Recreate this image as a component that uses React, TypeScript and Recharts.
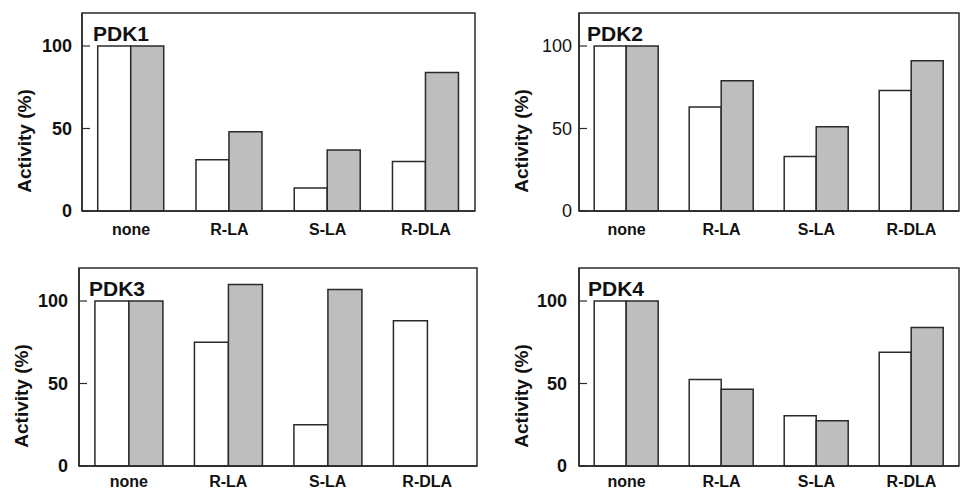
import { BarChart, Bar, XAxis, YAxis, ReferenceArea } from "recharts";

const FONT = '"Liberation Sans", Arial, sans-serif';
const INK = "#2a2a2a";
const GRAY = "#bebebe";

const categories = ["none", "R-LA", "S-LA", "R-DLA"];
const yTicks = [0, 50, 100];

const pdk1White = [100, 31, 14, 30];
const pdk1Gray = [100, 48, 37, 84];
const pdk2White = [100, 63, 33, 73];
const pdk2Gray = [100, 79, 51, 91];
const pdk3White = [100, 75, 25, 88];
const pdk3Gray = [100, 110, 107, null];
const pdk4White = [100, 52.5, 30.5, 69];
const pdk4Gray = [100, 46.5, 27.5, 84];

type PanelProps = {
  title: string;
  white: (number | null)[];
  gray: (number | null)[];
  left: number;
  top: number;
  axisW: number;
  mTop: number;
  mRight: number;
  tickGap: number;
  titleDx: number;
  xMargin: number;
  boldTicks: boolean;
};

function Panel(p: PanelProps) {
  const data = categories.map((c, i) => ({ name: c, w: p.white[i], g: p.gray[i] }));
  const chartH = p.mTop + 198 + 34;
  return (
    <div style={{ position: "absolute", left: p.left, top: p.top }}>
      <BarChart
        width={482}
        height={chartH}
        data={data}
        margin={{ top: p.mTop, right: p.mRight, left: 0, bottom: 0 }}
        barCategoryGap="16%"
        barGap={0}
      >
        <XAxis
          dataKey="name"
          height={34}
          tickLine={false}
          tickSize={0}
          tickMargin={p.xMargin}
          axisLine={{ stroke: INK, strokeWidth: 1.5 }}
          tick={{ fontSize: 16, fontWeight: "bold", fill: "#111", fontFamily: FONT }}
          interval={0}
        />
        <YAxis
          width={p.axisW}
          domain={[0, 120]}
          ticks={yTicks}
          tickSize={-8}
          tickMargin={p.tickGap + 8}
          axisLine={{ stroke: INK, strokeWidth: 1.5 }}
          tickLine={{ stroke: INK, strokeWidth: 1.2 }}
          tick={{
            fontSize: 18,
            fontWeight: p.boldTicks ? "bold" : "normal",
            fill: "#111",
            fontFamily: FONT,
          }}
          label={{
            content: (props: any) => {
              const vb = props.viewBox;
              const cx = vb.x + vb.width - 58;
              const cy = vb.y + 128;
              return (
                <text
                  x={cx}
                  y={cy}
                  transform={`rotate(-90 ${cx} ${cy})`}
                  textAnchor="middle"
                  dominantBaseline="central"
                  fontSize={19}
                  fontWeight="bold"
                  fill="#111"
                  fontFamily={FONT}
                >
                  Activity (%)
                </text>
              );
            },
          }}
        />
        <ReferenceArea
          y1={0}
          y2={120}
          fill="none"
          stroke={INK}
          strokeWidth={1.5}
          label={{
            content: (props: any) => {
              const vb = props.viewBox;
              return (
                <text
                  x={vb.x + p.titleDx}
                  y={vb.y + 28}
                  fontSize={21}
                  fontWeight="bold"
                  fill="#111"
                  fontFamily={FONT}
                >
                  {p.title}
                </text>
              );
            },
          }}
        />
        <Bar dataKey="w" fill="#ffffff" stroke={INK} strokeWidth={1.5} isAnimationActive={false} />
        <Bar dataKey="g" fill={GRAY} stroke={INK} strokeWidth={1.5} isAnimationActive={false} />
      </BarChart>
    </div>
  );
}

export default function App() {
  return (
    <div
      style={{
        position: "absolute",
        left: 0,
        top: 0,
        width: 964,
        height: 491,
        overflow: "hidden",
        background: "#fff",
      }}
    >
      <Panel title="PDK1" white={pdk1White} gray={pdk1Gray} left={0} top={0}
        axisW={82} mTop={13} mRight={7} tickGap={10} titleDx={11} xMargin={13} boldTicks />
      <Panel title="PDK2" white={pdk2White} gray={pdk2Gray} left={482} top={0}
        axisW={97} mTop={13} mRight={5} tickGap={7} titleDx={8} xMargin={13} boldTicks={false} />
      <Panel title="PDK3" white={pdk3White} gray={pdk3Gray} left={0} top={245}
        axisW={79} mTop={23} mRight={5} tickGap={11} titleDx={10} xMargin={10} boldTicks />
      <Panel title="PDK4" white={pdk4White} gray={pdk4Gray} left={482} top={245}
        axisW={97} mTop={23} mRight={5} tickGap={12} titleDx={9} xMargin={10} boldTicks />
    </div>
  );
}
